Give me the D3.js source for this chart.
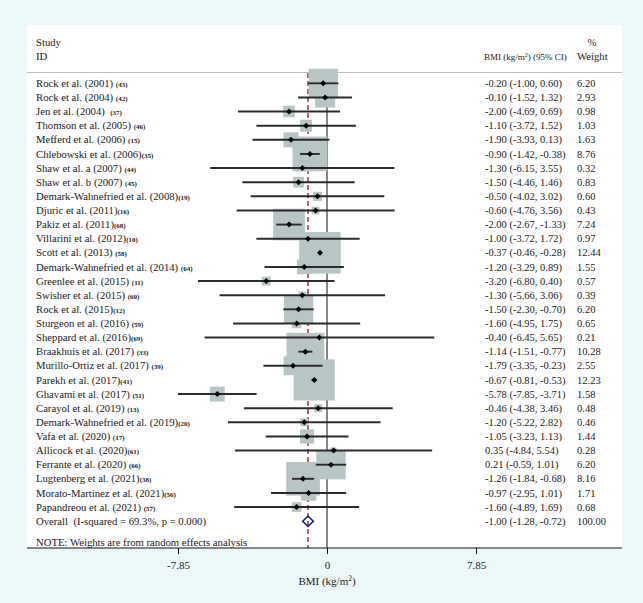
<!DOCTYPE html>
<html>
<head>
<meta charset="utf-8">
<script src="https://cdn.jsdelivr.net/npm/d3@7"></script>
<style>
  html, body { margin: 0; padding: 0; background: #edf9f8; }
  svg { display: block; }
  text { font-family: "Liberation Serif", "Times New Roman", serif; fill: #1a1a1a; }
</style>
</head>
<body>
<svg id="chart" width="643" height="603"></svg>
<script>
// ---------- data ----------
const studies = [
  "Rock et al. (2001) ", "Rock et al. (2004) ", "Jen et al. (2004)  ", "Thomson et al. (2005) ",
  "Mefferd et al. (2006) ", "Chlebowski et al. (2006)", "Shaw et al. a (2007) ", "Shaw et al. b (2007) ",
  "Demark-Wahnefried et al. (2008)", "Djuric et al. (2011)", "Pakiz et al. (2011)", "Villarini et al. (2012)",
  "Scott et al. (2013) ", "Demark-Wahnefried et al. (2014) ", "Greenlee et al. (2015) ", "Swisher et al. (2015) ",
  "Rock et al. (2015)", "Sturgeon et al. (2016) ", "Sheppard et al. (2016)", "Braakhuis et al. (2017) ",
  "Murillo-Ortiz et al. (2017) ", "Parekh et al. (2017)", "Ghavami et al. (2017) ", "Carayol et al. (2019) ",
  "Demark-Wahnefried et al. (2019)", "Vafa et al. (2020) ", "Allicock et al. (2020)", "Ferrante et al. (2020) ",
  "Lugtenberg et al. (2021)", "Morato-Martinez et al. (2021)", "Papandreou et al. (2021) "
];
const refs = ["(43)","(42)","(37)","(46)","(15)","(35)","(44)","(45)","(19)","(16)","(68)","(10)","(58)","(64)","(11)","(60)",
  "(12)","(59)","(69)","(33)","(39)","(41)","(51)","(13)","(20)","(17)","(61)","(66)","(38)","(56)","(57)"];
const estimates = [-0.20,-0.10,-2.00,-1.10,-1.90,-0.90,-1.30,-1.50,-0.50,-0.60,-2.00,-1.00,-0.37,-1.20,-3.20,-1.30,
  -1.50,-1.60,-0.40,-1.14,-1.79,-0.67,-5.78,-0.46,-1.20,-1.05,0.35,0.21,-1.26,-0.97,-1.60];
const lower = [-1.00,-1.52,-4.69,-3.72,-3.93,-1.42,-6.15,-4.46,-4.02,-4.76,-2.67,-3.72,-0.46,-3.29,-6.80,-5.66,
  -2.30,-4.95,-6.45,-1.51,-3.35,-0.81,-7.85,-4.38,-5.22,-3.23,-4.84,-0.59,-1.84,-2.95,-4.89];
const upper = [0.60,1.32,0.69,1.52,0.13,-0.38,3.55,1.46,3.02,3.56,-1.33,1.72,-0.28,0.89,0.40,3.06,
  -0.70,1.75,5.65,-0.77,-0.23,-0.53,-3.71,3.46,2.82,1.13,5.54,1.01,-0.68,1.01,1.69];
const weights = [6.20,2.93,0.98,1.03,1.63,8.76,0.32,0.83,0.60,0.43,7.24,0.97,12.44,1.55,0.57,0.39,
  6.20,0.65,0.21,10.28,2.55,12.23,1.58,0.48,0.46,1.44,0.28,6.20,8.16,1.71,0.68];
const overall = {label: "Overall  (I-squared = 69.3%, p = 0.000)", est: -1.00, lo: -1.28, hi: -0.72, w: 100.00};
const xTicks = [-7.85, 0, 7.85];
const note = "NOTE: Weights are from random effects analysis";

// ---------- layout ----------
const svg = d3.select("#chart");
const panel = {x0: 27, x1: 622, y0: 25, y1: 548};
const x = d3.scaleLinear().domain([-7.85, 7.85]).range([178, 476]);
const rows = d3.range(studies.length + 1);
const y = d3.scalePoint().domain(rows).range([83.3, 521.2]);
const box = d3.scaleSqrt().domain([0, 12.44]).range([0, 41.5]);
const f2 = d3.format(".2f");
const fmt = v => f2(v).replace("−", "-");

// white plot panel
svg.append("rect").attr("x", panel.x0).attr("y", panel.y0)
  .attr("width", panel.x1 - panel.x0).attr("height", panel.y1 - panel.y0).attr("fill", "#ffffff");

// header
const hdr = svg.append("g").style("font-size", "10.7px");
hdr.append("text").attr("x", 36).attr("y", 46).text("Study");
hdr.append("text").attr("x", 36).attr("y", 60).text("ID");
hdr.append("text").attr("x", 592).attr("y", 46).attr("text-anchor", "middle").text("%");
hdr.append("text").attr("x", 577).attr("y", 60).text("Weight");
const bh = hdr.append("text").attr("x", 484).attr("y", 60).style("font-size", "9px");
bh.append("tspan").text("BMI (kg/m");
bh.append("tspan").attr("dy", -3).style("font-size", "6px").text("2");
bh.append("tspan").attr("dy", 3).text(") (95% CI)");

svg.append("line").attr("x1", panel.x0).attr("x2", panel.x1).attr("y1", 72.5).attr("y2", 72.5)
  .attr("stroke", "#bdbdbd").attr("stroke-width", 1);

// null line & overall line
svg.append("line").attr("x1", x(0)).attr("x2", x(0)).attr("y1", 73).attr("y2", panel.y1)
  .attr("stroke", "#111").attr("stroke-width", 1);
svg.append("line").attr("x1", x(overall.est)).attr("x2", x(overall.est)).attr("y1", 73).attr("y2", panel.y1)
  .attr("stroke", "#8b1c1c").attr("stroke-width", 1.3).attr("stroke-dasharray", "5,3");

// boxes
const idx = d3.range(studies.length);
svg.append("g").selectAll("rect").data(idx).join("rect")
  .attr("x", i => x(estimates[i]) - box(weights[i]) / 2)
  .attr("y", i => y(i) - box(weights[i]) / 2)
  .attr("width", i => box(weights[i]))
  .attr("height", i => box(weights[i]))
  .attr("fill", "#b7c5c5");

// CI lines
svg.append("g").selectAll("line").data(idx).join("line")
  .attr("x1", i => x(lower[i])).attr("x2", i => x(upper[i]))
  .attr("y1", i => y(i)).attr("y2", i => y(i))
  .attr("stroke", "#2b2b2b").attr("stroke-width", 1.9);

// point markers (diamonds)
svg.append("g").selectAll("path").data(idx).join("path")
  .attr("d", i => {
    const cx = x(estimates[i]), cy = y(i), r = 3;
    return `M${cx},${cy - r}L${cx + r},${cy}L${cx},${cy + r}L${cx - r},${cy}Z`;
  })
  .attr("fill", "#000");

// overall diamond
const oy = y(studies.length);
svg.append("path")
  .attr("d", `M${x(overall.lo)},${oy}L${x(overall.est)},${oy - 5.2}L${x(overall.hi)},${oy}L${x(overall.est)},${oy + 5.2}Z`)
  .attr("fill", "none").attr("stroke", "#1d1d8a").attr("stroke-width", 1.6);

// study labels
const lab = svg.append("g").style("font-size", "10.7px");
idx.forEach(i => {
  const t = lab.append("text").attr("x", 36).attr("y", y(i) + 3.6).attr("xml:space", "preserve");
  t.append("tspan").text(studies[i]);
  t.append("tspan").style("font-size", "7px").style("font-weight", "bold").text(refs[i]);
});
lab.append("text").attr("x", 36).attr("y", oy + 3.6).attr("xml:space", "preserve").text(overall.label);
lab.append("text").attr("x", 36).attr("y", 545.5).text(note);

// effect column
const ec = svg.append("g").style("font-size", "10.5px");
idx.forEach(i => {
  ec.append("text").attr("x", 485).attr("y", y(i) + 3.6)
    .text(`${fmt(estimates[i])} (${fmt(lower[i])}, ${fmt(upper[i])})`);
  ec.append("text").attr("x", 577).attr("y", y(i) + 3.6).text(fmt(weights[i]));
});
ec.append("text").attr("x", 485).attr("y", oy + 3.6)
  .text(`${fmt(overall.est)} (${fmt(overall.lo)}, ${fmt(overall.hi)})`);
ec.append("text").attr("x", 577).attr("y", oy + 3.6).text(fmt(overall.w));

// x axis
const axisG = svg.append("g").attr("transform", `translate(0,${panel.y1})`);
axisG.append("line").attr("x1", panel.x0).attr("x2", panel.x1).attr("stroke", "#111").attr("stroke-width", 1);
axisG.call(d3.axisBottom(x).tickValues(xTicks).tickFormat(d => d === 0 ? "0" : f2(d).replace("−", "-")).tickSize(6).tickPadding(7))
  .call(g => g.select(".domain").remove())
  .call(g => g.selectAll("line").attr("stroke", "#111"))
  .call(g => g.selectAll("text").style("font-family", '"Liberation Serif", serif').style("font-size", "11px").attr("fill", "#1a1a1a"));
const xt = svg.append("text").attr("x", x(0)).attr("y", 585).attr("text-anchor", "middle").style("font-size", "11px");
xt.append("tspan").text("BMI (kg/m");
xt.append("tspan").attr("dy", -4).style("font-size", "7.5px").text("2");
xt.append("tspan").attr("dy", 4).text(")");
</script>
</body>
</html>
